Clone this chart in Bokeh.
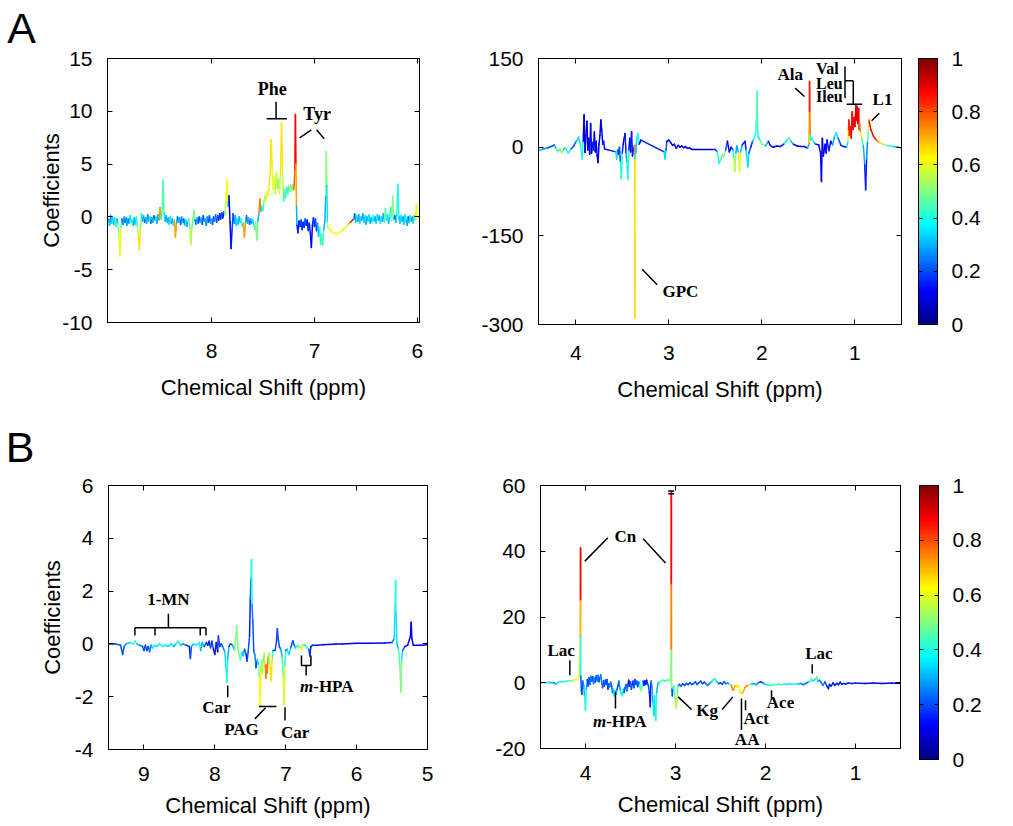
import numpy as np
from bokeh.plotting import figure
from bokeh.layouts import row, column
from bokeh.models import ColumnDataSource, Range1d, FixedTicker, LinearAxis, LinearColorMapper
from bokeh.transform import linear_cmap
from bokeh.core.properties import value
from bokeh.embed import file_html
from bokeh.resources import INLINE

# ---------------- data: panel A, aromatic region ----------------
A1_PPM = [
    9.00, 8.99, 8.98, 8.97, 8.96, 8.95, 8.94, 8.93, 8.92, 8.91,
    8.90, 8.89, 8.88, 8.87, 8.86, 8.85, 8.84, 8.83, 8.82, 8.81,
    8.80, 8.79, 8.78, 8.77, 8.76, 8.75, 8.74, 8.73, 8.72, 8.71,
    8.70, 8.69, 8.68, 8.67, 8.66, 8.65, 8.64, 8.63, 8.62, 8.61,
    8.60, 8.59, 8.58, 8.57, 8.56, 8.55, 8.54, 8.53, 8.52, 8.51,
    8.50, 8.49, 8.48, 8.47, 8.46, 8.45, 8.44, 8.43, 8.42, 8.41,
    8.40, 8.39, 8.38, 8.37, 8.36, 8.35, 8.34, 8.33, 8.32, 8.31,
    8.30, 8.29, 8.28, 8.27, 8.26, 8.25, 8.24, 8.23, 8.22, 8.21,
    8.20, 8.19, 8.18, 8.17, 8.16, 8.15, 8.14, 8.13, 8.12, 8.11,
    8.10, 8.09, 8.08, 8.07, 8.06, 8.05, 8.04, 8.03, 8.02, 8.01,
    8.00, 7.99, 7.98, 7.97, 7.96, 7.95, 7.94, 7.93, 7.92, 7.91,
    7.90, 7.89, 7.88, 7.87, 7.86, 7.85, 7.84, 7.83, 7.82, 7.81,
    7.80, 7.79, 7.78, 7.77, 7.76, 7.75, 7.74, 7.73, 7.72, 7.71,
    7.70, 7.69, 7.68, 7.67, 7.66, 7.65, 7.64, 7.63, 7.62, 7.61,
    7.60, 7.59, 7.58, 7.57, 7.56, 7.55, 7.54, 7.53, 7.52, 7.51,
    7.50, 7.49, 7.48, 7.47, 7.46, 7.45, 7.44, 7.43, 7.42, 7.41,
    7.40, 7.39, 7.38, 7.37, 7.36, 7.35, 7.34, 7.33, 7.32, 7.31,
    7.30, 7.29, 7.28, 7.27, 7.26, 7.25, 7.24, 7.23, 7.22, 7.21,
    7.20, 7.19, 7.185, 7.18, 7.175, 7.17, 7.16, 7.15, 7.14, 7.13,
    7.12, 7.11, 7.10, 7.09, 7.08, 7.07, 7.06, 7.05, 7.04, 7.03,
    7.02, 7.01, 7.00, 6.99, 6.98, 6.97, 6.96, 6.95, 6.94, 6.93,
    6.92, 6.91, 6.90, 6.89, 6.885, 6.88, 6.875, 6.87, 6.85, 6.82,
    6.79, 6.76, 6.73, 6.70, 6.67, 6.65, 6.63, 6.62, 6.61, 6.60,
    6.59, 6.58, 6.57, 6.56, 6.55, 6.54, 6.53, 6.52, 6.51, 6.50,
    6.49, 6.48, 6.47, 6.46, 6.45, 6.44, 6.43, 6.42, 6.41, 6.40,
    6.39, 6.38, 6.37, 6.36, 6.35, 6.34, 6.33, 6.32, 6.31, 6.30,
    6.29, 6.28, 6.27, 6.26, 6.25, 6.24, 6.23, 6.22, 6.21, 6.20,
    6.19, 6.18, 6.17, 6.16, 6.15, 6.14, 6.13, 6.12, 6.11, 6.10,
    6.09, 6.08, 6.07, 6.06, 6.05, 6.04, 6.03, 6.02, 6.01, 6.00,
]
A1_COEF = [
    -0.2, -0.8, 0.1, -0.6, 0.0, -0.7, -0.1, -0.9, -0.2, -0.6,
    -1.5, -3.7, -1.0, -0.2, -0.7, 0.0, -0.5, -0.1, -0.8, -0.2,
    -0.6, 0.1, -0.5, -0.3, -0.8, -0.1, -0.7, 0.0, -0.9, -1.8,
    -3.1, -1.0, 0.3, -0.4, 0.1, -0.5, -0.1, -0.6, 0.2, -0.4,
    0.0, -0.6, -0.1, -0.5, 0.1, -0.3, 0.0, -0.6, 0.2, -0.3,
    0.9, -0.2, 0.5, 3.5, 0.3, -0.4, 0.1, -0.5, -0.1, -0.7,
    0.0, -0.6, -0.2, -0.8, -0.3, -1.9, -0.6, 0.0, -0.5, -0.1,
    -0.7, 0.0, -0.5, -0.2, -0.8, -0.3, -0.9, -0.4, -0.2, -1.2,
    -2.6, -1.0, -0.2, 0.6, -0.3, -0.7, -0.1, -0.6, 0.0, -0.5,
    -0.1, -0.7, 0.1, -0.4, -0.2, -0.8, 0.0, -0.5, 0.1, -0.6,
    -0.2, -0.7, 0.0, -0.4, 0.2, -0.5, 0.1, -0.3, 0.3, -0.2,
    0.4, -0.1, 0.5, 0.2, 1.5, 3.5, 1.0, 2.0, -0.5, -3.0,
    -1.2, 0.3, -0.6, 0.1, -0.8, -0.2, -0.7, 0.0, -0.5, -0.2,
    -0.9, -0.6, -1.9, -0.5, 0.1, -0.6, -0.1, -0.7, -0.2, -0.6,
    -0.3, -0.8, -1.2, -0.5, -2.2, -0.4, 0.3, 1.7, 0.5, 1.0,
    0.6, 1.5, 2.0, 1.6, 2.4, 2.0, 3.0, 4.0, 7.3, 4.5,
    2.6, 3.8, 2.2, 4.2, 2.7, 3.6, 2.2, 4.0, 8.9, 4.5,
    1.5, 2.6, 1.8, 2.8, 2.1, 2.9, 2.4, 3.0, 2.5, 3.1,
    2.6, 4.5, 9.7, 5.0, 1.0, -0.8, -1.5, -0.4, -0.9, -0.3,
    -1.2, -0.5, -1.0, -0.2, -0.8, -0.3, -1.3, -0.6, -1.5, -2.9,
    -0.8, -0.1, -0.9, -0.2, -1.3, -0.6, -1.8, -1.0, -2.6, -1.6,
    -2.7, -1.2, -0.5, 2.0, 6.2, 3.0, -0.5, -1.0, -1.2, -1.5,
    -1.6, -1.5, -1.3, -1.0, -0.7, -0.5, -0.3, -0.2, 0.3, -0.5,
    0.1, -0.4, 0.2, -0.6, 0.0, -0.3, 0.3, -0.5, 0.1, -0.7,
    0.0, -0.4, 0.2, -0.6, -0.1, -0.5, 0.1, -0.4, 0.0, -0.6,
    0.2, -0.3, 0.1, -0.6, 0.0, -0.4, 0.3, -0.5, 0.8, -0.3,
    0.2, -0.6, 0.0, 0.9, -0.4, 2.0, -0.2, 0.1, -0.5, 0.2,
    3.1, 0.0, -0.6, 0.1, -0.4, 0.0, -0.7, 0.2, -0.3, -0.8,
    0.0, -0.5, 0.1, -0.4, 0.0, -0.6, 0.1, -0.3, 1.2, -0.2,
]
A1_R = [
    .20, .30, .25, .15, .35, .20, .30, .40, .20, .30,
    .50, .60, .45, .20, .15, .30, .20, .15, .30, .20,
    .15, .35, .20, .40, .15, .30, .20, .35, .40, .55,
    .65, .50, .35, .20, .30, .15, .20, .30, .25, .15,
    .35, .20, .15, .30, .20, .15, .35, .20, .30, .15,
    .72, .20, .40, .45, .35, .20, .30, .15, .30, .20,
    .35, .20, .30, .15, .40, .72, .30, .20, .15, .30,
    .20, .15, .30, .20, .15, .35, .20, .30, .40, .50,
    .55, .45, .30, .50, .20, .15, .30, .15, .20, .10,
    .30, .15, .20, .10, .30, .15, .25, .10, .20, .15,
    .30, .10, .20, .10, .25, .10, .20, .10, .15, .10,
    .20, .10, .15, .30, .55, .62, .30, .12, .10, .10,
    .15, .20, .15, .30, .20, .35, .15, .30, .20, .40,
    .30, .40, .72, .30, .20, .15, .30, .20, .15, .30,
    .20, .35, .45, .30, .50, .30, .25, .75, .35, .35,
    .40, .45, .55, .50, .60, .55, .60, .65, .65, .60,
    .55, .60, .45, .55, .45, .50, .40, .60, .65, .55,
    .40, .35, .45, .40, .35, .45, .40, .50, .45, .50,
    .55, .78, .88, .72, .30, .15, .10, .15, .10, .20,
    .10, .15, .10, .20, .10, .15, .10, .15, .10, .12,
    .10, .15, .10, .15, .20, .10, .30, .20, .40, .30,
    .45, .30, .20, .30, .50, .35, .30, .55, .60, .62,
    .63, .62, .60, .58, .60, .70, .85, .30, .20, .15,
    .35, .20, .30, .15, .35, .20, .30, .15, .35, .20,
    .30, .15, .35, .20, .30, .15, .40, .20, .30, .15,
    .35, .20, .30, .15, .35, .20, .30, .15, .45, .20,
    .35, .15, .30, .40, .20, .50, .30, .20, .15, .35,
    .40, .30, .20, .35, .15, .30, .20, .35, .15, .30,
    .20, .15, .35, .20, .30, .15, .35, .20, .60, .30,
]

# ---------------- data: panel A, aliphatic region ----------------
A2_PPM = [
    4.40, 4.35, 4.30, 4.25, 4.23, 4.21, 4.19, 4.17, 4.15, 4.13,
    4.11, 4.08, 4.05, 4.02, 4.00, 3.98, 3.97, 3.95, 3.93, 3.92,
    3.91, 3.90, 3.89, 3.88, 3.87, 3.86, 3.85, 3.84, 3.83, 3.82,
    3.81, 3.80, 3.79, 3.78, 3.77, 3.76, 3.75, 3.74, 3.73, 3.72,
    3.71, 3.70, 3.69, 3.57, 3.56, 3.55, 3.54, 3.53, 3.52, 3.51,
    3.50, 3.49, 3.48, 3.47, 3.46, 3.45, 3.44, 3.43, 3.42, 3.41,
    3.40, 3.39, 3.38, 3.37, 3.366, 3.365, 3.364, 3.363, 3.362, 3.355,
    3.35, 3.34, 3.33, 3.32, 3.31, 3.30, 3.05, 3.04, 3.03, 3.02,
    3.00, 2.98, 2.96, 2.94, 2.92, 2.90, 2.88, 2.86, 2.84, 2.82,
    2.80, 2.78, 2.76, 2.74, 2.70, 2.60, 2.50, 2.48, 2.46, 2.44,
    2.42, 2.41, 2.39, 2.37, 2.35, 2.33, 2.31, 2.30, 2.29, 2.28,
    2.27, 2.25, 2.24, 2.23, 2.21, 2.19, 2.18, 2.17, 2.15, 2.14,
    2.12, 2.10, 2.09, 2.07, 2.06, 2.05, 2.045, 2.04, 2.02, 2.00,
    1.98, 1.96, 1.93, 1.91, 1.88, 1.84, 1.80, 1.76, 1.73, 1.71,
    1.69, 1.66, 1.62, 1.58, 1.54, 1.51, 1.495, 1.49, 1.488, 1.485,
    1.48, 1.475, 1.46, 1.44, 1.42, 1.39, 1.37, 1.36, 1.355, 1.35,
    1.34, 1.32, 1.31, 1.30, 1.28, 1.26, 1.24, 1.22, 1.20, 1.18,
    1.15, 1.12, 1.09, 1.075, 1.07, 1.065, 1.06, 1.05, 1.04, 1.03,
    1.02, 1.01, 1.00, 0.99, 0.985, 0.975, 0.97, 0.96, 0.955, 0.95,
    0.94, 0.93, 0.91, 0.895, 0.885, 0.875, 0.865, 0.855, 0.85, 0.845,
    0.83, 0.80, 0.77, 0.74, 0.70, 0.66, 0.62, 0.58, 0.54, 0.50,
]
A2_COEF = [
    -6, -3, -1, 2, 4, -2, -8, -3, -9, -4,
    -1, -10, -3, 2, 9, 12, 17, 5, -20, 10,
    55, -9, 20, 44, -5, 15, -12, 40, -10, 8,
    -5, 26, -8, 10, -15, -26, 5, 20, 46, 29,
    5, 10, -3, -8, -20, -5, -12, 0, -25, -53,
    -10, 5, 15, 23, -10, -25, -54, -5, 15, -8,
    26, -15, -5, 3, -30, -150, -289, -150, -20, -10,
    5, 18, 23, 5, 8, 12, -8, -20, -5, 10,
    12, 8, 3, 5, -2, 3, 0, 2, -1, 1,
    -2, -1, -3, -4, -4, -4, -4, -8, -27, -20,
    -12, -16, -5, 10, -8, 0, -5, -20, -41, -10,
    2, -10, -41, -8, 4, 8, 10, -5, -33, -10,
    0, 10, 12, 21, 40, 95, 30, 18, 12, 5,
    4, 2, 10, 3, 0, 2, 1, 6, 12, 16,
    10, 5, 2, 1, 1, -2, 5, 60, 111, 60,
    20, 12, 15, 8, 5, 4, -10, -58, -10, 15,
    -15, 5, -10, 12, -6, 10, 4, 18, 24, 15,
    3, 1, 0, 10, 30, 46, 20, 35, 15, 60,
    30, 50, 35, 72, 45, 69, 40, 65, 30, 40,
    25, 15, 3, -30, -72, -20, 10, 30, 46, 42,
    30, 18, 12, 8, 5, 3, 2, 1, 0, -1,
]
A2_R = [
    .30, .25, .20, .15, .20, .30, .45, .25, .50, .30,
    .20, .40, .20, .15, .20, .30, .35, .20, .40, .10,
    .10, .10, .10, .08, .10, .10, .10, .08, .10, .10,
    .15, .10, .10, .12, .10, .10, .10, .10, .10, .10,
    .12, .15, .15, .15, .35, .20, .15, .10, .20, .40,
    .15, .10, .10, .10, .15, .30, .40, .15, .10, .10,
    .08, .15, .10, .10, .72, .62, .66, .62, .40, .30,
    .20, .35, .40, .15, .10, .10, .15, .35, .20, .10,
    .12, .10, .10, .10, .15, .10, .12, .10, .10, .10,
    .10, .12, .10, .10, .10, .10, .10, .20, .40, .30,
    .45, .50, .20, .10, .10, .12, .15, .40, .55, .30,
    .15, .30, .60, .30, .15, .10, .12, .15, .35, .20,
    .15, .15, .30, .40, .40, .45, .40, .35, .30, .45,
    .50, .30, .12, .15, .10, .10, .12, .15, .35, .45,
    .30, .15, .10, .10, .12, .10, .30, .70, .85, .75,
    .40, .35, .40, .30, .15, .10, .10, .12, .10, .10,
    .10, .12, .10, .15, .10, .15, .12, .30, .35, .20,
    .15, .10, .12, .35, .60, .85, .80, .85, .80, .88,
    .85, .88, .85, .90, .85, .90, .85, .88, .80, .75,
    .60, .45, .30, .15, .12, .15, .25, .45, .60, .80,
    .88, .85, .75, .65, .55, .45, .40, .30, .20, .15,
]

# ---------------- data: panel B, aromatic region ----------------
B1_PPM = [
    9.50, 9.40, 9.33, 9.30, 9.28, 9.25, 9.20, 9.15, 9.13, 9.10,
    9.06, 9.02, 9.00, 8.98, 8.96, 8.94, 8.92, 8.90, 8.88, 8.85,
    8.82, 8.78, 8.74, 8.70, 8.66, 8.62, 8.58, 8.55, 8.52, 8.48,
    8.45, 8.40, 8.36, 8.345, 8.33, 8.30, 8.26, 8.22, 8.20, 8.18,
    8.15, 8.12, 8.10, 8.08, 8.06, 8.04, 8.02, 8.00, 7.98, 7.96,
    7.95, 7.93, 7.91, 7.89, 7.86, 7.84, 7.83, 7.82, 7.80, 7.78,
    7.75, 7.72, 7.69, 7.675, 7.66, 7.64, 7.62, 7.605, 7.58, 7.56,
    7.545, 7.53, 7.51, 7.50, 7.49, 7.482, 7.475, 7.465, 7.45, 7.435,
    7.42, 7.40, 7.385, 7.37, 7.36, 7.35, 7.34, 7.33, 7.32, 7.305,
    7.29, 7.28, 7.27, 7.26, 7.25, 7.235, 7.22, 7.205, 7.19, 7.18,
    7.15, 7.13, 7.118, 7.105, 7.09, 7.07, 7.05, 7.035, 7.024, 7.012,
    7.00, 6.98, 6.955, 6.93, 6.90, 6.88, 6.86, 6.83, 6.81, 6.79,
    6.775, 6.76, 6.74, 6.72, 6.695, 6.675, 6.66, 6.645, 6.62, 6.55,
    6.48, 6.40, 6.29, 6.20, 6.00, 5.82, 5.60, 5.50, 5.47, 5.455,
    5.45, 5.445, 5.43, 5.41, 5.39, 5.375, 5.365, 5.35, 5.32, 5.28,
    5.24, 5.23, 5.22, 5.20, 5.10, 5.00,
]
B1_COEF = [
    0.0, 0.0, -0.05, -0.4, -0.1, 0.0, 0.05, 0.0, 0.12, 0.0,
    -0.05, -0.1, -0.25, -0.05, -0.25, -0.1, -0.3, -0.05, -0.15, -0.05,
    -0.1, 0.0, -0.1, -0.05, -0.1, 0.0, -0.1, 0.0, 0.1, -0.05,
    0.0, -0.05, -0.1, -0.55, -0.1, 0.0, -0.05, 0.05, -0.25, 0.05,
    -0.1, 0.05, -0.05, 0.1, -0.15, 0.1, -0.2, -0.4, 0.05, -0.3,
    0.3, -0.1, 0.0, -0.1, -0.3, -1.0, -1.45, -0.6, -0.1, 0.0,
    -0.05, -0.25, 0.7, -0.2, -0.4, -0.6, -0.3, -0.45, -0.2, -0.4,
    -0.65, -0.3, 0.3, 1.7, 2.5, 3.2, 1.5, 0.9, -0.3, -0.4,
    -0.9, -0.6, -0.8, -1.3, -2.35, -1.0, -0.6, -1.1, -0.7, -0.35,
    -0.8, -1.3, -0.8, -1.1, -0.5, -0.35, -0.9, -1.4, -0.5, -0.25,
    -0.25, 0.1, 0.57, 0.2, -0.1, -0.2, -0.5, -1.2, -2.3, -0.8,
    -0.25, -0.2, -0.4, -0.15, 0.12, -0.05, -0.15, -0.05, -0.15, -0.1,
    -0.2, -0.05, -0.05, -0.05, -0.15, -0.2, -0.45, -0.1, -0.05, -0.05,
    -0.03, -0.02, 0.0, 0.0, 0.02, 0.02, 0.03, 0.05, 0.2, 1.5,
    2.4, 1.2, 0.0, -0.2, -0.8, -1.83, -0.6, -0.25, -0.1, -0.05,
    0.3, 0.82, 0.2, -0.05, -0.05, -0.03,
]
B1_R = [
    .15, .15, .20, .15, .20, .25, .30, .35, .45, .30,
    .25, .20, .15, .20, .15, .20, .15, .25, .30, .35,
    .30, .35, .40, .35, .30, .35, .30, .25, .40, .30,
    .25, .20, .15, .15, .20, .30, .35, .40, .25, .30,
    .20, .15, .10, .15, .10, .20, .10, .12, .15, .10,
    .15, .20, .15, .20, .25, .35, .40, .30, .20, .15,
    .20, .30, .50, .45, .50, .45, .35, .30, .20, .15,
    .15, .20, .15, .15, .25, .40, .25, .20, .15, .25,
    .15, .20, .35, .50, .62, .50, .35, .55, .50, .15,
    .55, .75, .60, .75, .50, .20, .55, .65, .40, .15,
    .20, .15, .15, .20, .15, .20, .30, .45, .58, .40,
    .20, .15, .35, .20, .15, .20, .25, .40, .45, .55,
    .62, .50, .35, .30, .40, .20, .15, .15, .15, .15,
    .12, .12, .12, .12, .12, .12, .12, .15, .25, .35,
    .40, .35, .20, .30, .45, .50, .35, .20, .15, .12,
    .12, .12, .12, .12, .12, .12,
]

# ---------------- data: panel B, aliphatic region ----------------
B2_PPM = [
    4.50, 4.45, 4.40, 4.35, 4.33, 4.30, 4.25, 4.20, 4.15, 4.12,
    4.09, 4.07, 4.058, 4.056, 4.055, 4.0545, 4.054, 4.052, 4.045, 4.04,
    4.03, 4.02, 4.01, 4.00, 3.99, 3.98, 3.97, 3.96, 3.95, 3.94,
    3.93, 3.92, 3.91, 3.90, 3.89, 3.88, 3.87, 3.86, 3.85, 3.84,
    3.83, 3.82, 3.81, 3.80, 3.79, 3.78, 3.77, 3.76, 3.75, 3.74,
    3.73, 3.72, 3.71, 3.70, 3.69, 3.68, 3.67, 3.66, 3.65, 3.64,
    3.63, 3.62, 3.61, 3.60, 3.59, 3.58, 3.57, 3.56, 3.55, 3.54,
    3.53, 3.52, 3.51, 3.50, 3.49, 3.48, 3.47, 3.46, 3.45, 3.44,
    3.43, 3.42, 3.41, 3.40, 3.39, 3.38, 3.37, 3.36, 3.35, 3.34,
    3.33, 3.32, 3.31, 3.30, 3.29, 3.28, 3.275, 3.27, 3.26, 3.25,
    3.24, 3.23, 3.22, 3.21, 3.20, 3.19, 3.18, 3.17, 3.16, 3.14,
    3.12, 3.10, 3.08, 3.06, 3.052, 3.048, 3.047, 3.046, 3.045, 3.044,
    3.042, 3.035, 3.03, 3.02, 3.01, 3.00, 2.99, 2.98, 2.97, 2.96,
    2.94, 2.92, 2.90, 2.88, 2.86, 2.84, 2.82, 2.80, 2.78, 2.76,
    2.74, 2.72, 2.70, 2.68, 2.66, 2.64, 2.62, 2.60, 2.58, 2.56,
    2.54, 2.52, 2.50, 2.48, 2.46, 2.44, 2.42, 2.40, 2.38, 2.36,
    2.35, 2.34, 2.32, 2.30, 2.29, 2.27, 2.25, 2.23, 2.21, 2.19,
    2.17, 2.15, 2.12, 2.10, 2.08, 2.05, 2.02, 2.00, 1.97, 1.94,
    1.91, 1.88, 1.85, 1.82, 1.79, 1.76, 1.73, 1.70, 1.67, 1.64,
    1.61, 1.58, 1.56, 1.54, 1.52, 1.50, 1.49, 1.48, 1.46, 1.44,
    1.43, 1.42, 1.40, 1.38, 1.36, 1.34, 1.32, 1.30, 1.29, 1.27,
    1.25, 1.23, 1.21, 1.19, 1.17, 1.15, 1.13, 1.11, 1.08, 1.04,
    1.00, 0.90, 0.80, 0.70, 0.60, 0.50,
]
B2_COEF = [
    0.0, 0.0, 0.1, 0.0, -0.4, 0.2, 0.3, 0.5, 0.6, 0.9,
    1.0, 2.0, 14, 25, 41, 25, 14, 2, -2.5, -3.5,
    0.5, -1.0, -4.0, -8.4, -2.0, 1.0, -1.0, 1.5, -0.5, 2.0,
    0.5, 1.8, -0.3, 1.6, 0.2, 2.1, 0.6, 2.3, 0.3, 1.5,
    2.4, 0.0, -1.5, 0.5, -1.0, 0.8, -0.5, 1.0, -2.0, -0.3,
    -1.2, 0.2, -0.8, -3.0, -2.0, -4.0, -2.5, -3.5, -2.0, -1.0,
    0.5, -1.5, -2.5, -3.5, -4.0, -2.0, -3.0, -1.5, -0.5, -2.5,
    -1.0, 0.8, -1.0, 0.3, -2.0, -0.5, 0.5, -1.5, 1.0, -0.5,
    0.5, -1.2, 0.3, -0.5, -1.8, -2.5, -1.0, 0.5, -0.8, 0.6,
    -0.5, 0.8, -0.3, -1.0, -3.0, -7.3, -1.0, 0.5, -1.5, -6.0,
    -10.0, -4.0, -11.4, -3.0, -1.0, 0.3, -0.5, 0.2, 0.5, 0.8,
    0.5, 0.7, 0.9, 0.6, 2.0, 10, 30, 58, 30, 10,
    -2, -4, -2, -1.0, -3.5, -6.0, -7.8, -3.0, -1.0, -0.5,
    -1.0, -0.3, -0.8, -0.2, -0.6, 0.0, -0.5, -0.3, 0.3, -0.5,
    0.0, 0.5, -0.3, 0.2, -0.4, -0.8, -0.2, 0.3, 1.0, 1.3,
    0.2, -0.3, 0.0, -0.5, 0.3, -0.3, 0.0, -0.5, -0.8, -2.3,
    -2.0, -0.8, -1.2, -0.8, -2.5, -3.3, -3.0, -1.5, -1.0, -0.8,
    -0.5, -0.4, -0.3, -0.6, 0.0, 0.3, -0.2, -0.5, -0.6, -0.8,
    -0.5, -0.6, -0.4, -0.6, -0.4, -0.5, -0.3, -0.5, -0.3, -0.4,
    -0.2, -0.6, -0.3, 0.0, 0.3, 0.5, 1.3, 0.5, 0.8, 1.2,
    1.8, 0.5, 0.8, 0.0, -0.8, 0.3, -1.0, -1.8, -0.5, -1.0,
    0.0, -0.8, -0.2, -0.6, 0.2, -0.5, -0.2, -0.4, -0.1, -0.2,
    -0.1, -0.2, -0.1, -0.2, -0.1, -0.2,
]
B2_R = [
    .30, .35, .30, .25, .15, .35, .40, .40, .45, .55,
    .62, .55, .40, .70, .88, .70, .40, .20, .20, .15,
    .20, .25, .30, .40, .30, .20, .15, .20, .15, .25,
    .20, .15, .20, .25, .15, .20, .15, .25, .20, .15,
    .20, .25, .20, .15, .20, .15, .20, .15, .20, .15,
    .20, .25, .15, .20, .25, .35, .20, .30, .15, .20,
    .15, .25, .30, .35, .40, .30, .20, .15, .20, .25,
    .15, .12, .15, .12, .20, .15, .12, .20, .15, .20,
    .15, .20, .15, .25, .40, .50, .40, .20, .15, .12,
    .15, .12, .15, .20, .15, .12, .15, .15, .25, .30,
    .35, .30, .40, .30, .20, .30, .40, .50, .45, .40,
    .35, .40, .45, .50, .30, .50, .75, .88, .75, .50,
    .25, .15, .20, .30, .45, .50, .55, .45, .30, .20,
    .15, .20, .15, .20, .15, .20, .15, .20, .15, .20,
    .15, .20, .15, .20, .15, .25, .20, .30, .35, .40,
    .30, .20, .15, .20, .15, .20, .25, .30, .50, .75,
    .70, .60, .65, .60, .62, .65, .62, .70, .75, .65,
    .40, .30, .25, .30, .20, .15, .20, .30, .35, .40,
    .40, .45, .40, .45, .40, .35, .30, .35, .40, .30,
    .25, .20, .25, .20, .25, .35, .45, .35, .30, .35,
    .45, .30, .25, .20, .25, .20, .15, .12, .15, .12,
    .15, .12, .15, .12, .15, .12, .15, .12, .15, .12,
    .15, .12, .12, .12, .12, .12,
]

# ---------------- ticks ----------------
A1_XTICKS, A1_XLABELS = [8, 7, 6], ["8", "7", "6"]
A1_YTICKS, A1_YLABELS = [-10, -5, 0, 5, 10, 15], ["-10", "-5", "0", "5", "10", "15"]
A2_XTICKS, A2_XLABELS = [4, 3, 2, 1], ["4", "3", "2", "1"]
A2_YTICKS, A2_YLABELS = [-300, -150, 0, 150], ["-300", "-150", "0", "150"]
B1_XTICKS, B1_XLABELS = [9, 8, 7, 6, 5], ["9", "8", "7", "6", "5"]
B1_YTICKS, B1_YLABELS = [-4, -2, 0, 2, 4, 6], ["-4", "-2", "0", "2", "4", "6"]
B2_XTICKS, B2_XLABELS = [4, 3, 2, 1], ["4", "3", "2", "1"]
B2_YTICKS, B2_YLABELS = [-20, 0, 20, 40, 60], ["-20", "0", "20", "40", "60"]
CB_TICKS = [0, 0.2, 0.4, 0.6, 0.8, 1]
CB_LABELS = ["0", "0.2", "0.4", "0.6", "0.8", "1"]

# ---------------- annotations ----------------
PANEL_LETTERS = ["A", "B"]

A1_ANN_TEXT = ["Phe", "Tyr"]
A1_ANN_X = [7.41, 6.974]
A1_ANN_Y = [12.1, 9.76]
A1_ANN_LX = [[7.464, 7.268], [7.373, 7.373], [7.144, 7.03], [6.98, 6.905]]
A1_ANN_LY = [[9.3, 9.3], [10.9, 9.3], [7.49, 8.25], [8.25, 7.40]]

A2_ANN_TEXT = ["Ala", "L1", "GPC"]
A2_ANN_X = [1.696, 0.704, 2.875]
A2_ANN_Y = [122.4, 80.1, -244.2]
A2_STACK_TEXT = ["Val", "Leu", "Ileu"]
A2_STACK_X = [1.418, 1.418, 1.418]
A2_STACK_Y = [132.5, 108.3, 85.7]
A2_ANN_LX = [[1.643, 1.543], [1.107, 1.107], [1.107, 1.018], [1.018, 1.018],
             [1.089, 0.921], [0.821, 0.739], [3.286, 3.125]]
A2_ANN_LY = [[99.8, 85.7], [136.5, 82.9], [112.2, 112.2], [112.2, 72.8],
             [72.8, 72.8], [44.6, 57.5], [-206.4, -232.9]]

B1_ANN_TEXT = ["1-MN", "Car", "PAG", "Car"]
B1_ANN_X = [8.655, 7.979, 7.624, 6.868]
B1_ANN_Y = [1.68, -2.42, -3.26, -3.35]
B1_HPA_X, B1_HPA_Y = 6.612, -1.60
B1_ANN_LX = [[8.655, 8.655], [9.128, 8.125], [9.128, 9.128], [8.844, 8.844],
             [8.206, 8.206], [8.125, 8.125], [7.818, 7.818], [7.378, 7.132],
             [7.435, 7.284], [7.01, 7.01], [6.778, 6.778, 6.645, 6.645], [6.712, 6.712]]
B1_ANN_LY = [[1.14, 0.61], [0.61, 0.61], [0.61, 0.32], [0.61, 0.32],
             [0.61, 0.32], [0.61, 0.32], [-1.58, -2.02], [-2.37, -2.37],
             [-2.84, -2.42], [-2.40, -2.90], [-0.44, -0.82, -0.82, -0.44], [-0.82, -1.2]]

B2_ANN_TEXT = ["Cn", "Lac", "Kg", "Act", "AA", "Ace", "Lac"]
B2_ANN_X = [3.556, 4.27, 2.648, 2.104, 2.204, 1.833, 1.407]
B2_ANN_Y = [44.5, 9.87, -8.35, -10.9, -17.3, -6.1, 8.86]
B2_HPA_X, B2_HPA_Y = 3.77, -11.7
B2_ANN_LX = [[4.007, 3.752], [3.359, 3.111], [3.081, 3.015], [3.081, 3.015],
             [4.174, 4.174], [3.667, 3.667], [2.97, 2.822], [2.481, 2.363],
             [2.222, 2.222], [2.267, 2.267], [1.933, 1.933], [1.481, 1.481]]
B2_ANN_LY = [[37.0, 44.1], [43.8, 36.4], [58.3, 58.3], [57.5, 57.5],
             [6.84, 2.28], [-2.78, -7.85], [-4.3, -8.15], [-8.15, -4.3],
             [-5.3, -8.35], [-4.8, -14.4], [-2.3, -5.3], [5.62, 2.78]]

for name, a, b, c in (("A1", A1_PPM, A1_COEF, A1_R), ("A2", A2_PPM, A2_COEF, A2_R),
                      ("B1", B1_PPM, B1_COEF, B1_R), ("B2", B2_PPM, B2_COEF, B2_R)):
    if not (len(a) == len(b) == len(c)):
        raise SystemExit("length mismatch %s: %d %d %d" % (name, len(a), len(b), len(c)))

# ---------------- styling ----------------
SANS = "Liberation Sans"
SERIF = "Liberation Serif"
STRIP_W = 36
TOTAL_H = 825


def jet(n=256):
    out = []
    for i in range(n):
        v = i / (n - 1)
        r = min(1.0, max(0.0, 1.5 - abs(4 * v - 3)))
        g = min(1.0, max(0.0, 1.5 - abs(4 * v - 2)))
        b = min(1.0, max(0.0, 1.5 - abs(4 * v - 1)))
        out.append("#%02x%02x%02x" % (round(r * 255), round(g * 255), round(b * 255)))
    return out


JET = jet()


def style_axis(ax, ticks, labels, standoff, hide=False, tick_in=5):
    ax.ticker = FixedTicker(ticks=ticks)
    ax.major_label_overrides = {t: l for t, l in zip(ticks, labels)}
    ax.major_tick_in = tick_in
    ax.major_tick_out = 0
    ax.minor_tick_line_color = None
    ax.major_tick_line_color = "black"
    ax.axis_line_color = "black"
    ax.major_label_standoff = standoff
    ax.major_label_text_font = SANS
    ax.major_label_text_font_size = "0px" if hide else "21px"
    ax.major_label_text_color = "black"
    ax.axis_label_text_font = SANS
    ax.axis_label_text_font_size = "22px"
    ax.axis_label_text_font_style = "normal"
    ax.axis_label_text_color = "black"


def make_panel(xr, yr, xt, xl, yt, yl, fw, fh, bl, br, bt, bb,
               xstand, xlabstand, ylabel=None, ylabstand=0):
    p = figure(frame_width=fw, frame_height=fh, x_range=Range1d(*xr), y_range=Range1d(*yr),
               min_border_left=bl, min_border_right=br, min_border_top=bt, min_border_bottom=bb,
               toolbar_location=None, tools="", output_backend="svg")
    p.grid.visible = False
    p.outline_line_color = "black"
    p.outline_line_alpha = 1.0
    p.outline_line_width = 1
    style_axis(p.xaxis[0], xt, xl, xstand)
    p.xaxis[0].axis_label = "Chemical Shift (ppm)"
    p.xaxis[0].axis_label_standoff = xlabstand
    style_axis(p.yaxis[0], yt, yl, 15)
    if ylabel:
        p.yaxis[0].axis_label = ylabel
        p.yaxis[0].axis_label_standoff = ylabstand
    top = LinearAxis()
    style_axis(top, xt, [""] * len(xt), 0, hide=True)
    p.add_layout(top, "above")
    right = LinearAxis()
    style_axis(right, yt, [""] * len(yt), 0, hide=True)
    p.add_layout(right, "right")
    return p


def spectrum(p, ppm, coef, r):
    seg_r = [max(a, b) for a, b in zip(r[:-1], r[1:])]
    src = ColumnDataSource(dict(x0=ppm[:-1], y0=coef[:-1], x1=ppm[1:], y1=coef[1:], r=seg_r))
    p.segment("x0", "y0", "x1", "y1", source=src, line_width=1.5, line_cap="round",
              line_color=linear_cmap("r", JET, 0, 1))


def annotate(p, texts, xs, ys, lxs, lys, align="center", size="17px"):
    if texts:
        p.text(x=xs, y=ys, text=texts, text_font=value(SERIF), text_font_style="bold",
               text_font_size=size, text_align=align, text_baseline="middle", text_color="black")
    if lxs:
        p.multi_line(xs=lxs, ys=lys, line_color="black", line_width=1.5)


def hpa(p, x, y):
    p.text(x=[x], y=[y], text=["m"], text_font=value(SERIF), text_font_style="bold italic",
           text_font_size="17px", text_align="right", text_baseline="middle", text_color="black")
    p.text(x=[x], y=[y], text=["-HPA"], text_font=value(SERIF), text_font_style="bold",
           text_font_size="17px", text_align="left", text_baseline="middle", text_color="black")


def make_cbar(fh, bl, br, bt, bb):
    c = figure(frame_width=19, frame_height=fh, x_range=Range1d(0, 1), y_range=Range1d(0, 1),
               x_axis_location=None, y_axis_location="right",
               min_border_left=bl, min_border_right=br, min_border_top=bt, min_border_bottom=bb,
               toolbar_location=None, tools="", output_backend="svg")
    c.grid.visible = False
    c.outline_line_color = "black"
    c.outline_line_alpha = 1.0
    mapper = LinearColorMapper(palette=JET, low=0, high=1)
    grad = np.linspace(0, 1, 256).reshape(256, 1)
    c.image(image=[grad], x=0, y=0, dw=1, dh=1, color_mapper=mapper)
    style_axis(c.yaxis[0], CB_TICKS, CB_LABELS, 14, tick_in=4)
    left = LinearAxis()
    style_axis(left, CB_TICKS, [""] * len(CB_TICKS), 0, hide=True, tick_in=4)
    c.add_layout(left, "left")
    return c


# ---------------- panel letters (left strip, pixel-like data units) ----------------
strip = figure(frame_width=STRIP_W, frame_height=TOTAL_H, x_range=Range1d(0, STRIP_W),
               y_range=Range1d(TOTAL_H, 0), x_axis_location=None, y_axis_location=None,
               min_border=0, toolbar_location=None, tools="", output_backend="svg")
strip.grid.visible = False
strip.outline_line_color = None
strip.text(x=[21, 19.5], y=[27.5, 446.5], text=PANEL_LETTERS, text_font=value(SANS),
           text_font_size="43px", text_align="center", text_baseline="middle", text_color="black")

# ---------------- row A ----------------
a1 = make_panel((9.01, 5.98), (-10, 15), A1_XTICKS, A1_XLABELS, A1_YTICKS, A1_YLABELS,
                312, 264, 107 - STRIP_W, 10, 58, 104, 21, 14, ylabel="Coefficients", ylabstand=-5)
spectrum(a1, A1_PPM, A1_COEF, A1_R)
annotate(a1, A1_ANN_TEXT, A1_ANN_X, A1_ANN_Y, A1_ANN_LX, A1_ANN_LY, size="18px")

a2 = make_panel((4.4, 0.5), (-300, 150), A2_XTICKS, A2_XLABELS, A2_YTICKS, A2_YLABELS,
                363, 266, 109, 5, 57, 103, 21, 14)
spectrum(a2, A2_PPM, A2_COEF, A2_R)
annotate(a2, A2_ANN_TEXT, A2_ANN_X, A2_ANN_Y, A2_ANN_LX, A2_ANN_LY)
annotate(a2, A2_STACK_TEXT, A2_STACK_X, A2_STACK_Y, None, None, align="left", size="16px")

c1 = make_cbar(266, 12, 60, 57, 103)

# ---------------- row B ----------------
b1 = make_panel((9.5, 5.0), (-4, 6), B1_XTICKS, B1_XLABELS, B1_YTICKS, B1_YLABELS,
                319, 264, 107 - STRIP_W, 10, 59, 76, 17, 9, ylabel="Coefficients", ylabstand=7)
spectrum(b1, B1_PPM, B1_COEF, B1_R)
annotate(b1, B1_ANN_TEXT, B1_ANN_X, B1_ANN_Y, B1_ANN_LX, B1_ANN_LY)
hpa(b1, B1_HPA_X, B1_HPA_Y)

b2 = make_panel((4.5, 0.5), (-20, 60), B2_XTICKS, B2_XLABELS, B2_YTICKS, B2_YLABELS,
                360, 263, 103, 5, 59, 77, 17, 9)
spectrum(b2, B2_PPM, B2_COEF, B2_R)
annotate(b2, B2_ANN_TEXT, B2_ANN_X, B2_ANN_Y, B2_ANN_LX, B2_ANN_LY)
hpa(b2, B2_HPA_X, B2_HPA_Y)

c2 = make_cbar(274, 14, 60, 55, 70)

layout = row(strip, column(row(a1, a2, c1), row(b1, b2, c2)))
open("out.html", "w").write(file_html(layout, INLINE, title="Coefficient plots"))
